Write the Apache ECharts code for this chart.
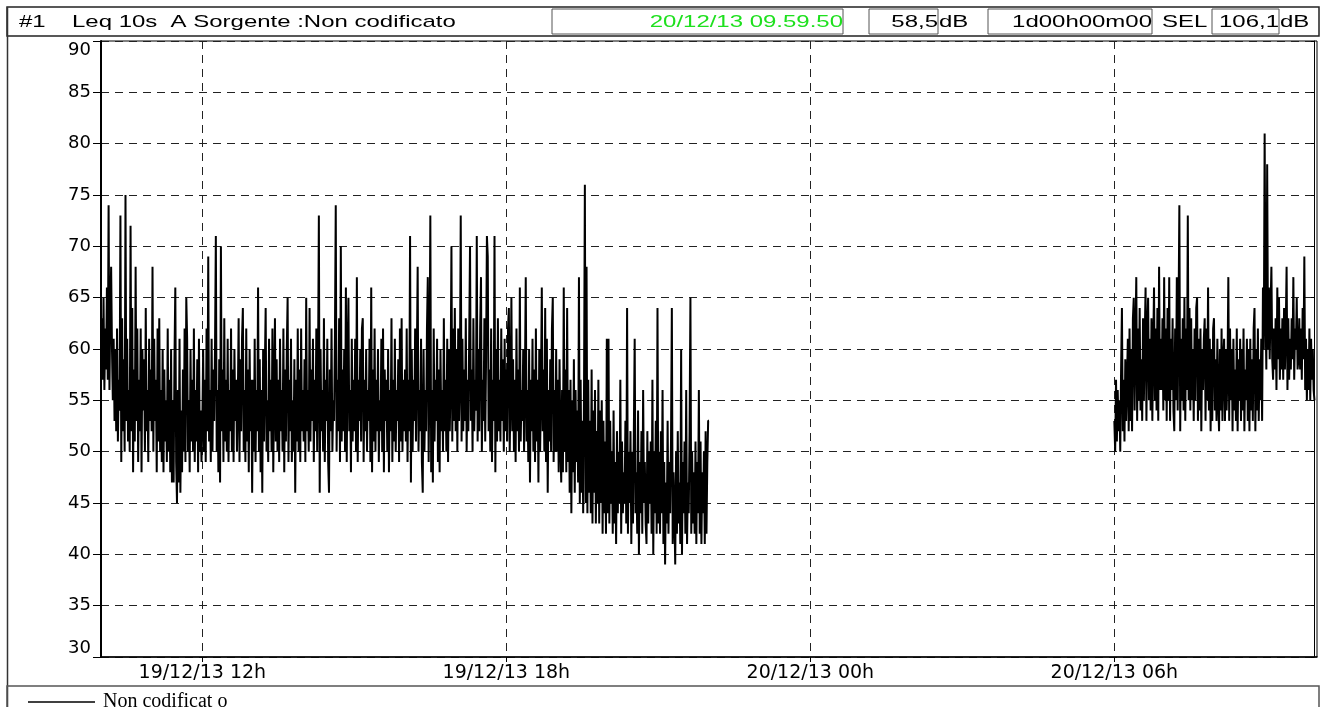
<!DOCTYPE html>
<html lang="it">
<head>
<meta charset="UTF-8">
<title>Leq 10s A - Non codificato</title>
<script src="https://cdn.jsdelivr.net/npm/echarts@6.0.0/dist/echarts.min.js"></script>
<style>
  html, body { margin: 0; padding: 0; background: #fff; }
  #main { width: 1321px; height: 707px; }
</style>
</head>
<body>
<div id="main"></div>
<script>
// tempo in ore da 19/12/13 00:00, un campione al minuto
var STEP = 1 / 60;

// 19/12/13 10:00 -> 22:00 (sei righe = un'ora)
var seg1Start = 10;
var seg1Values = [
  58,63,57,65,56,62,58,66,57,74, 56,64,68,60,55,61,53,60,52,62,
  51,57,54,73,49,63,52,59,50,75, 53,61,51,56,50,72,52,64,48,58,
  51,68,53,62,49,57,52,62,48,60, 54,59,50,64,52,56,49,61,53,58,
  // 11h
  52,68,50,61,53,57,48,62,51,63, 50,56,49,60,48,58,51,55,49,62,
  50,57,48,60,47,55,47,59,66,49, 45,56,47,61,46,54,48,58,50,62,
  49,65,61,50,55,48,60,51,57,50, 62,49,56,51,59,48,61,50,54,49,
  // 12h
  53,60,50,57,49,62,52,69,51,56, 49,61,50,58,53,60,71,50,56,48,
  59,47,70,52,58,49,63,51,57,50, 61,49,56,52,62,50,58,49,60,53,
  57,50,55,63,49,59,52,61,64,50, 56,49,62,51,58,48,60,52,57,46,
  // 13h
  57,50,61,49,56,52,66,50,59,48, 56,46,60,51,58,64,50,55,49,61,
  52,57,50,62,48,56,63,51,59,50, 57,49,61,52,56,50,62,48,58,51,
  60,65,49,57,52,61,49,55,50,59, 46,57,51,62,50,58,49,62,52,56,
  // 14h
  51,59,49,65,52,56,50,64,51,58, 53,61,49,57,52,62,50,58,73,46,
  60,52,56,50,63,49,57,53,61,49, 46,58,52,62,50,55,53,61,74,50,
  57,52,63,49,70,51,58,52,60,50, 66,49,59,65,52,56,48,61,51,57,
  // 15h
  52,61,50,67,49,57,53,60,51,62, 63,49,57,52,60,50,56,53,61,49,
  66,48,58,51,62,50,57,52,60,49, 55,52,61,50,62,48,58,53,57,50,
  60,48,56,52,63,49,57,51,61,50, 56,53,59,49,62,51,63,50,57,52,
  // 16h
  58,51,62,49,57,52,71,47,60,50, 57,53,62,51,59,68,50,56,52,61,
  49,46,60,50,56,52,62,67,49,58, 73,48,56,47,62,51,57,53,61,49,
  58,48,60,52,56,50,63,52,57,50, 61,49,60,52,57,70,51,62,53,64,
  // 17h
  52,60,50,62,53,57,73,51,61,52, 58,53,63,50,57,52,61,70,53,58,
  50,63,52,57,54,71,51,60,52,62, 67,50,57,53,63,51,59,71,69,52,
  58,50,62,49,57,53,71,48,60,51, 63,52,57,51,62,53,59,50,61,52,
  // 18h
  58,51,62,64,50,56,65,52,59,50, 57,49,62,52,58,50,66,51,56,53,
  60,50,57,67,51,56,49,60,47,57, 52,61,50,58,49,62,51,57,47,60,
  50,56,66,52,58,50,64,49,61,46, 56,51,59,50,62,65,49,56,50,60,
  // 19h
  50,57,48,59,51,47,56,48,66,50, 58,48,64,49,56,46,57,44,55,48,
  59,46,56,49,54,47,67,45,57,46, 53,44,56,76,45,68,44,57,46,53,
  44,58,43,54,46,56,43,52,45,57, 43,54,45,55,42,53,44,51,42,61,
  // 20h
  44,61,43,53,45,50,42,54,43,49, 41,52,44,50,45,57,42,51,44,48,
  45,53,43,64,42,50,45,52,41,50, 43,52,61,44,48,42,54,40,49,44,
  52,42,56,45,49,43,41,52,43,50, 45,51,42,57,40,50,44,53,42,64,
  // 21h
  43,50,42,52,44,56,41,49,39,47, 43,53,42,49,44,51,64,41,48,44,
  39,50,42,52,43,47,41,60,40,49, 44,51,42,56,41,47,44,52,65,42,
  50,43,48,42,51,41,49,44,56,42, 51,41,48,44,50,41,52,42,49,53,
  53
];

// 20/12/13 06:00 -> 09:57
var seg2Start = 30;
var seg2Values = [
  53,50,57,51,56,52,55,50,58,64, 52,57,51,59,53,57,61,52,62,53,
  60,52,63,65,54,61,67,53,62,55, 64,54,59,53,63,55,61,66,53,62,
  65,55,61,54,63,53,60,66,55,62, 54,64,53,68,56,61,56,63,54,67,
  // 07h
  55,62,53,64,55,67,53,61,56,63, 54,52,62,55,67,54,63,74,52,61,
  55,63,54,65,53,62,56,73,55,64, 54,63,55,60,53,62,55,64,65,53,
  61,54,62,52,60,56,61,63,53,62, 55,66,54,61,52,60,53,62,63,54,
  // 08h
  59,53,61,55,52,60,54,62,53,59, 61,53,60,54,58,67,53,62,55,60,
  52,61,54,58,53,62,52,59,55,61, 53,60,54,62,52,58,55,61,53,60,
  52,61,54,59,53,62,64,52,60,54, 62,53,59,55,61,53,66,60,81,64,
  // 09h
  58,78,60,66,59,64,68,59,57,62, 58,63,56,66,59,65,57,62,58,63,
  57,64,58,62,68,56,63,57,61,58, 63,59,67,57,62,60,65,58,59,63,
  58,62,57,64,59,69,56,61,55,60, 56,62,55,61,57,60,56,55
];

var xTicks = [12, 18, 24, 30];
var seriesName = 'Non codificat o';
var headerTitle = ['#1', 'Leq 10s  A Sorgente :Non codificato'];
var headerTime = '20/12/13 09.59.50';
var headerLeq = '58,5';
var headerDur = '1d00h00m00';
var headerSel = '106,1';

function toPairs(start, values) {
  return values.map(function (v, i) { return [start + i * STEP, v]; });
}

function fmtHour(h) {
  var day = 19 + Math.floor(h / 24);
  var hh = h % 24;
  return day + '/12/13 ' + (hh < 10 ? '0' + hh : hh) + 'h';
}

var headFont = '17px "Liberation Sans", Arial, sans-serif';
function headText(x, txt, align, color) {
  return {
    type: 'text', x: x, y: 22, scaleX: 1.41,
    style: { text: txt, font: headFont, fill: color || '#000', align: align, verticalAlign: 'middle' }
  };
}
function box(x1, x2) {
  return {
    type: 'rect', shape: { x: x1, y: 9, width: x2 - x1, height: 25 },
    style: { fill: 'none', stroke: '#555', lineWidth: 1 }
  };
}

var chart = echarts.init(document.getElementById('main'));

var lineSeries = {
  name: seriesName, type: 'line', symbol: 'none', showSymbol: false,
  lineStyle: { color: '#000', width: 2 }, itemStyle: { color: '#000' },
  animation: false, z: 3
};

chart.setOption({
  backgroundColor: '#fff',
  animation: false,
  grid: {
    left: 101, right: 4, top: 41, bottom: 50,
    show: true, borderColor: '#000', borderWidth: 1,
    outerBoundsMode: 'none'
  },
  legend: {
    data: [{ name: seriesName, icon: 'rect' }], left: 23, top: 687,
    itemWidth: 67, itemHeight: 1.5,
    textStyle: { fontFamily: '"Liberation Serif", "Times New Roman", serif', fontSize: 20, color: '#000', padding: [0, 0, 0, 3] }
  },
  xAxis: {
    type: 'value', min: 10, max: 34,
    axisLine: { show: true, onZero: false, lineStyle: { color: '#000', width: 1.5 } },
    axisTick: { show: true, customValues: xTicks, length: 5, lineStyle: { color: '#000' } },
    axisLabel: {
      customValues: xTicks, formatter: fmtHour, margin: 7,
      color: '#000', fontFamily: 'DejaVu Sans', fontSize: 19
    },
    splitLine: { show: true, lineStyle: { color: '#222', width: 1, type: [8, 6] } }
  },
  yAxis: [{
    type: 'value', min: 30, max: 90, interval: 5,
    axisLine: { show: true, lineStyle: { color: '#000', width: 2 } },
    axisTick: { show: true, length: 8, lineStyle: { color: '#000' } },
    axisLabel: {
      margin: 10, color: '#000', fontFamily: 'DejaVu Sans', fontSize: 18,
      verticalAlignMinLabel: 'bottom', verticalAlignMaxLabel: 'top'
    },
    splitLine: { show: true, lineStyle: { color: '#222', width: 1, type: [8, 6] } }
  }, {
    type: 'value', min: 30, max: 90, interval: 5, position: 'right', offset: -3,
    axisLine: { show: true, lineStyle: { color: '#000', width: 1 } },
    axisTick: { show: true, inside: true, length: 3, lineStyle: { color: '#000' } },
    axisLabel: { show: false },
    splitLine: { show: false }
  }],
  series: [
    Object.assign({}, lineSeries, { data: toPairs(seg1Start, seg1Values) }),
    Object.assign({}, lineSeries, { data: toPairs(seg2Start, seg2Values) })
  ],
  graphic: [
    // intestazione
    { type: 'rect', shape: { x: 7, y: 7, width: 1312, height: 29 }, style: { fill: 'none', stroke: '#222', lineWidth: 1.5 } },
    box(552, 843), box(869, 938), box(988, 1152), box(1212, 1279),
    headText(19, headerTitle[0], 'left'),
    headText(72, headerTitle[1], 'left'),
    headText(843, headerTime, 'right', '#1ee01e'),
    headText(938, headerLeq, 'right'),
    headText(939, 'dB', 'left'),
    headText(1152, headerDur, 'right'),
    headText(1162, 'SEL', 'left'),
    headText(1279, headerSel, 'right'),
    headText(1280, 'dB', 'left'),
    // bordo sinistro e riquadro legenda
    { type: 'line', shape: { x1: 7.5, y1: 7, x2: 7.5, y2: 707 }, style: { stroke: '#333', lineWidth: 1.5 } },
    { type: 'rect', shape: { x: 7, y: 686, width: 1312, height: 30 }, style: { fill: 'none', stroke: '#555', lineWidth: 1.5 } }
  ]
});
</script>
</body>
</html>
